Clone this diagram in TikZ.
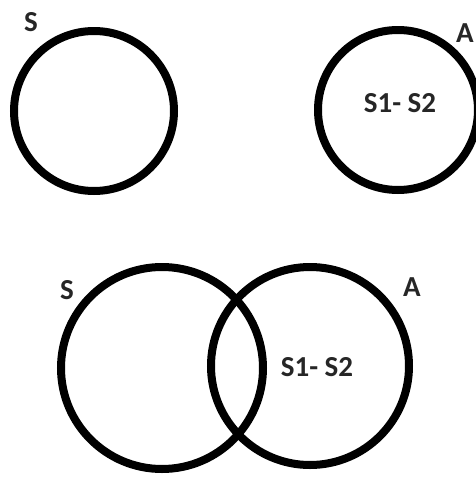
\documentclass[tikz,border=0pt]{standalone}
\usepackage{fontspec}
\setmainfont{Carlito}
\begin{document}
\begin{tikzpicture}[x=1pt,y=-1pt,
  ring/.style={circle,draw=black,line width=8pt,inner sep=0pt},
  lbl/.style={font=\fontsize{29}{33}\selectfont\bfseries,text=black!85,inner sep=0pt}]
\useasboundingbox (0,0) rectangle (475,480);
\node[ring,minimum size=160pt] (c1) at (94,111) {};
\node[ring,minimum size=160pt] (c2) at (398,110) {};
\node[ring,minimum size=202pt] (c3) at (162,368) {};
\node[ring,minimum size=198pt] (c4) at (310,366) {};
\node[lbl] (s1) at (31,22) {S};
\node[lbl] (a1) at (465,33) {A};
\node[lbl] (t1) at (400,103) {S1- S2};
\node[lbl] (s2) at (67,290) {S};
\node[lbl] (a2) at (412,287) {A};
\node[lbl] (t2) at (317,367) {S1- S2};
\end{tikzpicture}
\end{document}
